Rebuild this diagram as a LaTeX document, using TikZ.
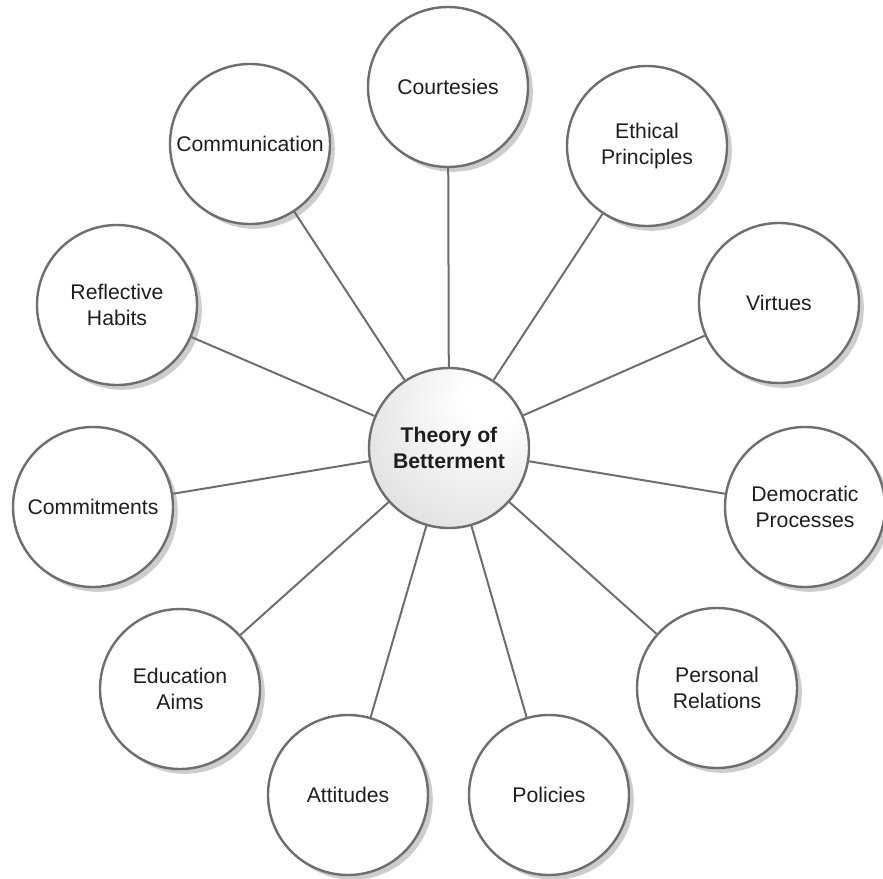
\documentclass[tikz,border=0pt]{standalone}
\usepackage{fontspec}
\setmainfont{Liberation Sans}
\usepackage{tikz}
\usetikzlibrary{shadows}
\definecolor{RimGray}{HTML}{6E6E6E}
\definecolor{ShadeGray}{HTML}{CDCDCD}
\definecolor{InkGray}{HTML}{1E1E1E}
\pgfdeclareradialshading{betterball}{\pgfpoint{14bp}{16bp}}{%
  color(0bp)=(white); color(8bp)=(white);
  color(40bp)=(black!12); color(62bp)=(black!28); color(100bp)=(black!28)}
\tikzset{
  bubble/.style={circle, draw=RimGray, line width=1.2pt,
    minimum size=80pt, inner sep=0pt, align=center, text=InkGray,
    font=\fontsize{10.6}{12.6}\selectfont},
  topic/.style={bubble, fill=white,
    drop shadow={shadow xshift=2.4pt, shadow yshift=-2.4pt,
      fill=ShadeGray, opacity=1}},
  hub/.style={bubble, shade, shading=betterball,
    font=\fontsize{10.6}{12.6}\selectfont\bfseries},
  link/.style={draw=RimGray, line width=1pt}
}
\begin{document}
\begin{tikzpicture}[x=0.5pt, y=-0.5pt]
\useasboundingbox (0,0) rectangle (883,878);

\node[hub] (hub) at (449,448) {Theory of\\Betterment};

\node[topic] (courtesies)    at (448,87)  {Courtesies};
\node[topic] (ethical)       at (647,146) {Ethical\\Principles};
\node[topic] (virtues)       at (779,303) {Virtues};
\node[topic] (democratic)    at (805,507) {Democratic\\Processes};
\node[topic] (personal)      at (717,688) {Personal\\Relations};
\node[topic] (policies)      at (549,795) {Policies};
\node[topic] (attitudes)     at (348,795) {Attitudes};
\node[topic] (education)     at (180,689) {Education\\Aims};
\node[topic] (commitments)   at (93,507)  {Commitments};
\node[topic] (reflective)    at (117,305) {Reflective\\Habits};
\node[topic] (communication) at (250,144) {Communication};

\draw[link] (hub) -- (courtesies);
\draw[link] (hub) -- (ethical);
\draw[link] (hub) -- (virtues);
\draw[link] (hub) -- (democratic);
\draw[link] (hub) -- (personal);
\draw[link] (hub) -- (policies);
\draw[link] (hub) -- (attitudes);
\draw[link] (hub) -- (education);
\draw[link] (hub) -- (commitments);
\draw[link] (hub) -- (reflective);
\draw[link] (hub) -- (communication);

\end{tikzpicture}
\end{document}
